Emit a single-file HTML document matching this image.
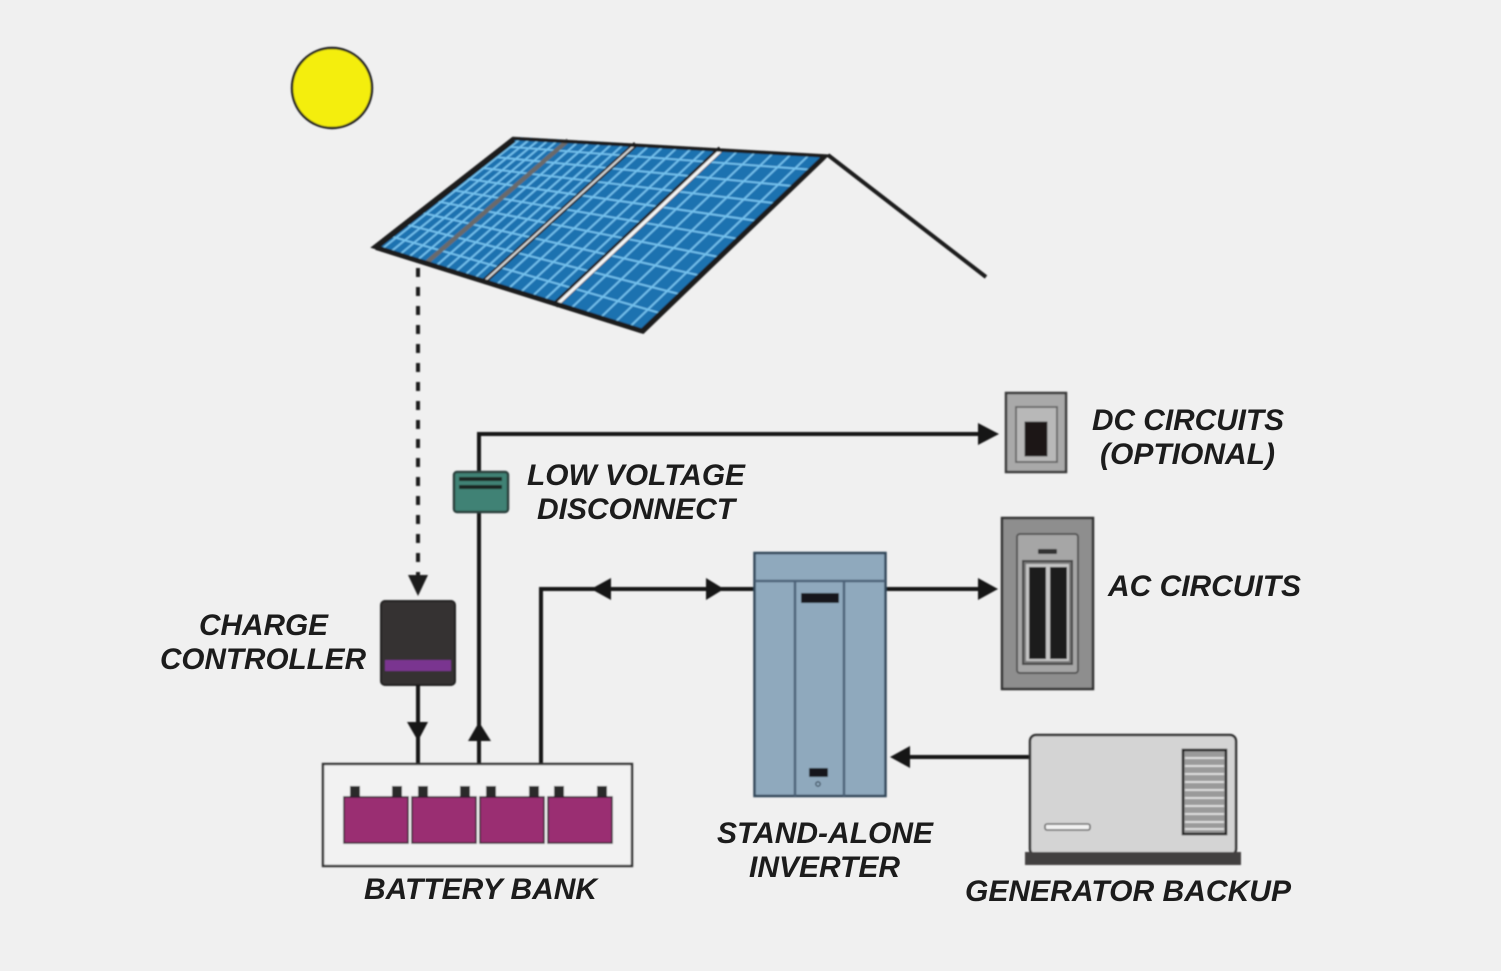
<!DOCTYPE html>
<html><head><meta charset="utf-8"><style>
html,body{margin:0;padding:0;background:#f0f0f0}
svg{display:block}
text{font-family:"Liberation Sans",sans-serif;font-weight:bold;font-style:italic;font-size:30px;fill:#1a1a1a}
</style></head><body>
<svg xmlns="http://www.w3.org/2000/svg" width="1501" height="971" viewBox="0 0 1501 971">
<defs>
<filter id="b" x="-5%" y="-5%" width="110%" height="110%"><feGaussianBlur stdDeviation="0.7"/></filter>
<filter id="t" x="-5%" y="-20%" width="110%" height="140%"><feGaussianBlur stdDeviation="0.35"/></filter>
</defs>
<rect width="1501" height="971" fill="#f0f0f0"/>
<g filter="url(#b)">
<circle cx="332" cy="88" r="40" fill="#f4ee0c" stroke="#1c1c1c" stroke-width="2.4"/>
<path d="M828 155L986 277" stroke="#1c1c1c" stroke-width="4" fill="none"/>
<polygon points="513,137 828,155 643,333 372,247" fill="#1c72b0"/>
<path stroke="#74c2ee" stroke-width="1.8" fill="none" d="
M522.2 137.5L380.9 249.8M531.4 138L389.7 252.6M540.6 138.6L398.6 255.4M549.8 139.1L407.4 258.2M558.9 139.6L416.3 261
M579.4 140.8L434.8 266.9M590.7 141.4L444.4 270M602 142.1L454.1 273.1M613.3 142.7L463.8 276.1M624.6 143.4L473.4 279.2
M650 144.8L495.1 286.1M664.2 145.6L507 289.9M678.4 146.5L519 293.7M692.6 147.3L531 297.5M706.7 148.1L543 301.2
M738.8 149.9L569.6 309.7M756.6 150.9L584.3 314.4M774.5 151.9L599 319M792.3 153L613.6 323.7M810.1 154L628.3 328.3
M501.3 146.2L812.6 169.8M488.2 156.4L795.4 186.3M474.6 167L777.6 203.5M460.6 177.9L759.2 221.2M446.3 189L740.5 239.2
M431.8 200.3L721.5 257.5M417.1 211.8L702.2 276M402.2 223.5L682.6 294.9M387.2 235.2L662.9 313.9"/>
<path d="M568.1 140.2L425.1 263.9" stroke="#6a6a6a" stroke-width="4.5" fill="none"/>
<path d="M635.9 144L483.1 282.3" stroke="#232323" stroke-width="5.5" fill="none"/>
<path d="M635.9 144L483.1 282.3" stroke="#d8d8d8" stroke-width="2" fill="none"/>
<path d="M720.9 148.9L554.9 305.1" stroke="#232323" stroke-width="6.5" fill="none"/>
<path d="M721.9 149.4L555.9 305.6" stroke="#f4f4f4" stroke-width="3.4" fill="none"/>
<polygon points="513,138.5 826,156 643,332 374,247" fill="none" stroke="#1c1c1c" stroke-width="3.5" stroke-linejoin="miter"/>
<path d="M514 140L376 247.5M823 158L642 331M376 247.5L642 331" stroke="#1c1c1c" stroke-width="5" fill="none"/>

<path d="M418 268V578" stroke="#1c1c1c" stroke-width="4" stroke-dasharray="9 10" fill="none"/>
<polygon points="408,575 428,575 418,596" fill="#1c1c1c"/>

<rect x="381" y="601" width="74" height="84" rx="4" fill="#353330" stroke="#222" stroke-width="2"/>
<rect x="385" y="660" width="66" height="11" fill="#7a3590"/>
<path d="M418 685V764M479 764V513M479 471V434H982M541 764V589H754M885 589H982M1030 757H908" stroke="#141414" stroke-width="4" fill="none"/>
<polygon points="407,722 428,722 418,741" fill="#141414"/>
<polygon points="479,722 491,741 468,741" fill="#141414"/>
<polygon points="999,434 978,423 978,445" fill="#141414"/>
<polygon points="591,589 611,578 611,600" fill="#141414"/>
<polygon points="724,589 706,578 706,600" fill="#141414"/>
<polygon points="998,589 978,578 978,600" fill="#141414"/>
<polygon points="890,757 910,746 910,768" fill="#141414"/>

<rect x="454" y="472" width="54" height="40" rx="3" fill="#3f8274" stroke="#2a3f3c" stroke-width="2.5"/>
<rect x="459" y="477" width="43" height="4" fill="#1c2624"/>
<rect x="459" y="485" width="43" height="4" fill="#1c2624"/>

<rect x="323" y="764" width="309" height="102" fill="#f2f2f2" stroke="#333" stroke-width="2.4"/>
<g fill="#2a2a2a">
<rect x="350" y="786" width="10" height="11"/><rect x="392" y="786" width="10" height="11"/>
<rect x="418" y="786" width="10" height="11"/><rect x="460" y="786" width="10" height="11"/>
<rect x="486" y="786" width="10" height="11"/><rect x="529" y="786" width="10" height="11"/>
<rect x="554" y="786" width="10" height="11"/><rect x="597" y="786" width="10" height="11"/>
</g>
<g fill="#9a2f72" stroke="#2a1a2a" stroke-width="1.5">
<rect x="344" y="797" width="64" height="46"/><rect x="412" y="797" width="64" height="46"/>
<rect x="480" y="797" width="64" height="46"/><rect x="548" y="797" width="64" height="46"/>
</g>

<rect x="754.5" y="553" width="131" height="243" fill="#8fa9bd" stroke="#33465a" stroke-width="2.5"/>
<path d="M755 581H885M795 581V796M844 581V796" stroke="#4d6479" stroke-width="2.5" fill="none"/>
<rect x="801" y="593" width="38" height="10" rx="1" fill="#15191c"/>
<rect x="809" y="768" width="19" height="9" rx="1" fill="#15191c"/>
<circle cx="818" cy="784" r="2.2" fill="none" stroke="#3f5263" stroke-width="1.3"/>

<rect x="1002" y="518" width="91" height="171" fill="#8e8e8e" stroke="#333" stroke-width="2.5"/>
<rect x="1017" y="534" width="61" height="139" rx="3" fill="#a6a6a6" stroke="#555" stroke-width="2"/>
<rect x="1038" y="549" width="19" height="5" rx="1" fill="#333"/>
<rect x="1023" y="561" width="49" height="103" fill="#777" stroke="#444" stroke-width="2"/>
<rect x="1026" y="564" width="43" height="97" fill="#c4c4c4"/>
<rect x="1029" y="567" width="17" height="92" fill="#1e1a1a"/>
<rect x="1050" y="567" width="17" height="92" fill="#1e1a1a"/>

<rect x="1006" y="393" width="60" height="79" fill="#a9a9a9" stroke="#3b3b3b" stroke-width="2.5"/>
<rect x="1016" y="407" width="41" height="55" fill="#b8b8b8" stroke="#666" stroke-width="1.8"/>
<rect x="1025" y="422" width="22" height="34" fill="#1b1818" stroke="#333"/>

<rect x="1030" y="735" width="206" height="120" rx="6" fill="#d4d4d4" stroke="#333" stroke-width="2.5"/>
<rect x="1183" y="750" width="43" height="84" fill="#9a9a9a" stroke="#222" stroke-width="2.5"/>
<path d="M1185 758H1224M1185 766H1224M1185 774H1224M1185 782H1224M1185 790H1224M1185 798H1224M1185 806H1224M1185 814H1224M1185 822H1224M1185 829H1224" stroke="#dedede" stroke-width="2" fill="none"/>
<rect x="1045" y="824" width="45" height="6" rx="2" fill="#f2f2f2" stroke="#666" stroke-width="1.6"/>
<rect x="1025" y="852" width="216" height="13" fill="#433f3f"/>
</g>
<g filter="url(#t)">
<text x="199" y="635" textLength="129" lengthAdjust="spacingAndGlyphs">CHARGE</text>
<text x="160" y="669" textLength="206" lengthAdjust="spacingAndGlyphs">CONTROLLER</text>
<text x="527" y="485" textLength="218" lengthAdjust="spacingAndGlyphs">LOW VOLTAGE</text>
<text x="537" y="519" textLength="198" lengthAdjust="spacingAndGlyphs">DISCONNECT</text>
<text x="1092" y="430" textLength="192" lengthAdjust="spacingAndGlyphs">DC CIRCUITS</text>
<text x="1100" y="464" textLength="175" lengthAdjust="spacingAndGlyphs">(OPTIONAL)</text>
<text x="1108" y="596" textLength="193" lengthAdjust="spacingAndGlyphs">AC CIRCUITS</text>
<text x="717" y="843" textLength="216" lengthAdjust="spacingAndGlyphs">STAND-ALONE</text>
<text x="749" y="877" textLength="151" lengthAdjust="spacingAndGlyphs">INVERTER</text>
<text x="364" y="899" textLength="233" lengthAdjust="spacingAndGlyphs">BATTERY BANK</text>
<text x="965" y="901" textLength="326" lengthAdjust="spacingAndGlyphs">GENERATOR BACKUP</text>
</g>
</svg>
</body></html>
